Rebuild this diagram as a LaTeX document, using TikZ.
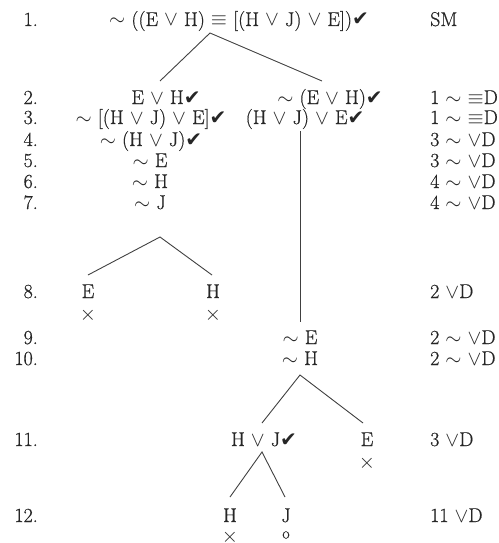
\documentclass[tikz,border=0pt]{standalone}
\usepackage{fontspec}
\setmainfont{Latin Modern Roman}[FakeBold=0.6]
\newfontfamily\dvs{DejaVu Sans}
\newcommand{\ck}{{\dvs\char"2714}}
\newcommand{\ngt}{$\sim$\ }
\newcommand{\vv}{$\vee$}
\newcommand{\tb}{$\equiv$}
\begin{document}
\begin{tikzpicture}[x=1pt,y=-1pt,
  every node/.style={font=\fontsize{20}{22}\selectfont, inner sep=0pt, text=black!85},
  f/.style={anchor=base},
  num/.style={anchor=base east},
  just/.style={anchor=base west},
  ln/.style={line width=0.9pt, draw=black!75}]
\useasboundingbox (0,0) rectangle (498,543);
% row numbers
\foreach \n/\y in {1/26,2/104,3/124,4/146,5/167,6/188,7/209,8/298,9/344,10/365,11/446,12/522}
  \node[num] (n\n) at (38,\y) {\n.};
% justifications
\node[just] (j1) at (430,26) {SM};
\node[just] (j2) at (430,104) {1 \ngt\tb D};
\node[just] (j3) at (430,124) {1 \ngt\tb D};
\node[just] (j4) at (430,146) {3 \ngt\vv D};
\node[just] (j5) at (430,167) {3 \ngt\vv D};
\node[just] (j6) at (430,188) {4 \ngt\vv D};
\node[just] (j7) at (430,209) {4 \ngt\vv D};
\node[just] (j8) at (430,298) {2 \vv D};
\node[just] (j9) at (430,344) {2 \ngt\vv D};
\node[just] (j10) at (430,365) {2 \ngt\vv D};
\node[just] (j11) at (430,446) {3 \vv D};
\node[just] (j12) at (430,522) {11 \vv D};
% tree
\node[f] (r1) at (239,26) {\ngt((E \vv\ H) \tb\ [(H \vv\ J) \vv\ E])\ck};
\node[f] (r2L) at (166,104) {E \vv\ H\ck};
\node[f] (r2R) at (330,104) {\ngt(E \vv\ H)\ck};
\node[f] (r3L) at (151,124) {\ngt[(H \vv\ J) \vv\ E]\ck};
\node[f] (r3R) at (305,124) {(H \vv\ J) \vv\ E\ck};
\node[f] (r4) at (151,146) {\ngt(H \vv\ J)\ck};
\node[f] (r5) at (150,167) {\ngt E};
\node[f] (r6) at (150,188) {\ngt H};
\node[f] (r7) at (150,209) {\ngt J};
\node[f] (r8L) at (88,298) {E};
\node[f] (r8R) at (213,298) {H};
\node (x8L) at (88,315) {$\times$};
\node (x8R) at (213,315) {$\times$};
\node[f] (r9) at (300,344) {\ngt E};
\node[f] (r10) at (300,365) {\ngt H};
\node[f] (r11L) at (264,446) {H \vv\ J\ck};
\node[f] (r11R) at (367,446) {E};
\node (x11R) at (367,463) {$\times$};
\node[f] (r12L) at (230,522) {H};
\node[f] (r12R) at (286,522) {J};
\node (x12L) at (230,537) {$\times$};
\node[font=\fontsize{16}{16}\selectfont] (o12R) at (286,535) {o};
% connector points
\coordinate (a1) at (210,33);
\coordinate (e2L) at (160,81);
\coordinate (e2R) at (322,81);
\coordinate (v1) at (300,131);
\coordinate (v2) at (300,322);
\coordinate (a7) at (160,237);
\coordinate (e8L) at (88,275);
\coordinate (e8R) at (212,275);
\coordinate (a10) at (300,375);
\coordinate (e11L) at (262,423);
\coordinate (e11R) at (363,423);
\coordinate (a11) at (262,452);
\coordinate (e12L) at (230,497);
\coordinate (e12R) at (285,497);
\draw[ln] (e2L) -- (a1) -- (e2R);
\draw[ln] (v1) -- (v2);
\draw[ln] (e8L) -- (a7) -- (e8R);
\draw[ln] (e11L) -- (a10) -- (e11R);
\draw[ln] (e12L) -- (a11) -- (e12R);
\end{tikzpicture}
\end{document}
